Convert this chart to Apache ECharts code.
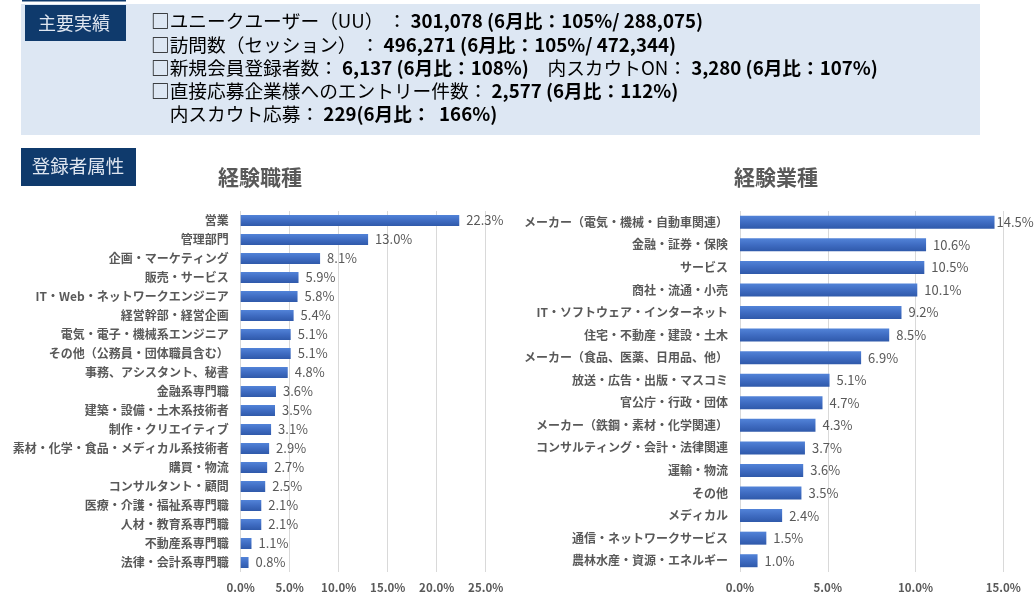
<!DOCTYPE html>
<html>
<head>
<meta charset="utf-8">
<script src="https://cdn.jsdelivr.net/npm/echarts@6/dist/echarts.min.js"></script>
<style>
html,body{margin:0;padding:0;background:#fff;}
#c{width:1035px;height:601px;}
</style>
</head>
<body>
<div id="c"></div>
<script>
// ---------- data ----------
const jobCategories = ['営業','管理部門','企画・マーケティング','販売・サービス','IT・Web・ネットワークエンジニア','経営幹部・経営企画','電気・電子・機械系エンジニア','その他（公務員・団体職員含む）','事務、アシスタント、秘書','金融系専門職','建築・設備・土木系技術者','制作・クリエイティブ','素材・化学・食品・メディカル系技術者','購買・物流','コンサルタント・顧問','医療・介護・福祉系専門職','人材・教育系専門職','不動産系専門職','法律・会計系専門職'];
const jobValues = [22.3,13.0,8.1,5.9,5.8,5.4,5.1,5.1,4.8,3.6,3.5,3.1,2.9,2.7,2.5,2.1,2.1,1.1,0.8];
const jobAxisMax = 25;

const industryCategories = ['メーカー（電気・機械・自動車関連）','金融・証券・保険','サービス','商社・流通・小売','IT・ソフトウェア・インターネット','住宅・不動産・建設・土木','メーカー（食品、医薬、日用品、他）','放送・広告・出版・マスコミ','官公庁・行政・団体','メーカー（鉄鋼・素材・化学関連）','コンサルティング・会計・法律関連','運輸・物流','その他','メディカル','通信・ネットワークサービス','農林水産・資源・エネルギー'];
const industryValues = [14.5,10.6,10.5,10.1,9.2,8.5,6.9,5.1,4.7,4.3,3.7,3.6,3.5,2.4,1.5,1.0];
const industryAxisMax = 15;
const axisInterval = 5;

const chartTitles = ['経験職種','経験業種'];
const headerTag = '主要実績';
const sectionTag = '登録者属性';
const headerLines = [
  [['n','□ユニークユーザー（UU） ： '],['b','301,078 (6月比：105%/ 288,075)']],
  [['n','□訪問数（セッション） ： '],['b','496,271 (6月比：105%/ 472,344)']],
  [['n','□新規会員登録者数： '],['b','6,137 (6月比：108%)'],['n','　内スカウトON： '],['b','3,280 (6月比：107%)']],
  [['n','□直接応募企業様へのエントリー件数： '],['b','2,577 (6月比：112%)']],
  [['n','　内スカウト応募： '],['b','229(6月比：  166%)']]
];

// ---------- styles ----------
const FONT = '"Noto Sans CJK JP","Noto Sans",sans-serif';
const barGradient = new echarts.graphic.LinearGradient(0,0,0,1,[
  {offset:0,color:'#5283d8'},{offset:0.5,color:'#3f6cc2'},{offset:1,color:'#2f59aa'}
]);

function pct(v){ return v.toFixed(1) + '%'; }

function makeBarData(values, axisMax){
  return values.map(v => {
    const item = {value: v};
    if (v / axisMax > 0.95) item.label = {distance: 2};
    return item;
  });
}

function axisPair(gridIndex, cats, max){
  return {
    x: {
      type:'value', gridIndex, min:0, max, interval:axisInterval,
      axisLine:{show:false}, axisTick:{show:false},
      splitLine:{show:true, lineStyle:{color:'#d9d9d9', width:1}},
      axisLabel:{formatter:v=>pct(v), color:'#595959', fontWeight:'bold', fontSize:11.5, fontFamily:FONT, margin:10}
    },
    y: {
      type:'category', gridIndex, data:cats, inverse:true,
      axisLine:{show:false}, axisTick:{show:false},
      axisLabel:{color:'#595959', fontWeight:'bold', fontSize:12, fontFamily:FONT, margin:12}
    }
  };
}

const a1 = axisPair(0, jobCategories, jobAxisMax);
const a2 = axisPair(1, industryCategories, industryAxisMax);

const rich = {
  n:{fontSize:18.7, color:'#4a5870', fontFamily:FONT, fontWeight:'normal'},
  b:{fontSize:18.7, color:'#1f3864', fontFamily:FONT, fontWeight:'bold'}
};
const lineY = [21, 45, 68, 91, 114];
const headerTexts = headerLines.map((segs, i) => ({
  type:'text', x:151, y:lineY[i],
  style:{
    text: segs.map(s => '{' + s[0] + '|' + s[1] + '}').join(''),
    rich, textVerticalAlign:'middle', verticalAlign:'middle'
  }
}));

const valueLabel = {show:true, position:'right', distance:7, formatter:p=>pct(p.value), color:'#595959', fontSize:13, fontWeight:'normal', fontFamily:FONT};

const option = {
  animation:false,
  backgroundColor:'#ffffff',
  grid:[
    {left:240.7, top:211, width:245, height:361, containLabel:false},
    {left:740, top:211, width:263.3, height:361, containLabel:false}
  ],
  xAxis:[a1.x, a2.x],
  yAxis:[a1.y, a2.y],
  series:[
    {type:'bar', xAxisIndex:0, yAxisIndex:0, data:makeBarData(jobValues, jobAxisMax), barWidth:11,
     itemStyle:{color:barGradient}, label:valueLabel},
    {type:'bar', xAxisIndex:1, yAxisIndex:1, data:makeBarData(industryValues, industryAxisMax), barWidth:13,
     itemStyle:{color:barGradient}, label:valueLabel}
  ],
  graphic:[
    {type:'rect', shape:{x:21, y:4, width:959, height:131}, style:{fill:'#dde7f3'}, z:-1},
    {type:'rect', shape:{x:22, y:0, width:104, height:1.5}, style:{fill:'#0f3a6c'}},
    {type:'rect', shape:{x:25, y:5, width:101, height:36}, style:{fill:'#0f3a6c'}},
    {type:'text', x:74, y:23, style:{text:headerTag, fill:'#dfe6f0', font:'18px '+FONT, textAlign:'center', textVerticalAlign:'middle', align:'center', verticalAlign:'middle'}},
    {type:'rect', shape:{x:21, y:148, width:115, height:38}, style:{fill:'#0f3a6c'}},
    {type:'text', x:78, y:166, style:{text:sectionTag, fill:'#dfe6f0', font:'18.5px '+FONT, textAlign:'center', textVerticalAlign:'middle', align:'center', verticalAlign:'middle'}},
    {type:'text', x:260, y:177, style:{text:chartTitles[0], fill:'#595959', font:'bold 21px '+FONT, textAlign:'center', textVerticalAlign:'middle', align:'center', verticalAlign:'middle'}},
    {type:'text', x:776, y:177, style:{text:chartTitles[1], fill:'#595959', font:'bold 21px '+FONT, textAlign:'center', textVerticalAlign:'middle', align:'center', verticalAlign:'middle'}}
  ].concat(headerTexts)
};

const chart = echarts.init(document.getElementById('c'), null, {renderer:'canvas'});
chart.setOption(option);
</script>
</body>
</html>
